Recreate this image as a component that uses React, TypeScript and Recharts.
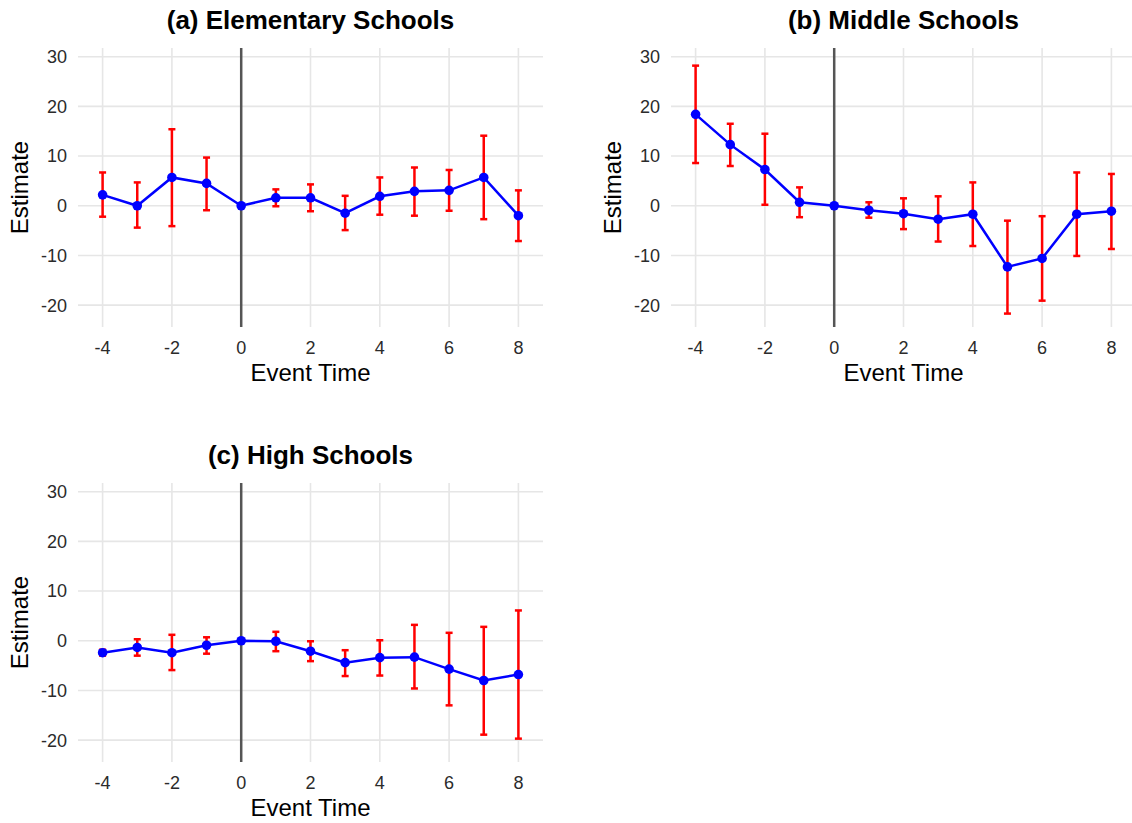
import {
  ComposedChart,
  Line,
  XAxis,
  YAxis,
  ReferenceLine,
  ErrorBar,
  Label,
} from 'recharts';

const eventTimes = [-4, -3, -2, -1, 0, 1, 2, 3, 4, 5, 6, 7, 8];
const xTicks = [-4, -2, 0, 2, 4, 6, 8];
const yTicks = [-20, -10, 0, 10, 20, 30];

const elemEst = [2.2, 0, 5.7, 4.5, 0, 1.6, 1.6, -1.5, 1.9, 2.9, 3.1, 5.7, -2.0];
const elemLow = [-2.2, -4.4, -4.1, -0.9, 0, -0.1, -1.1, -4.9, -1.8, -2.0, -1.0, -2.7, -7.1];
const elemHigh = [6.7, 4.7, 15.4, 9.7, 0, 3.3, 4.3, 2.0, 5.7, 7.7, 7.2, 14.1, 3.1];

const midEst = [18.4, 12.3, 7.3, 0.7, 0, -0.9, -1.6, -2.7, -1.7, -12.3, -10.6, -1.7, -1.1];
const midLow = [8.6, 8.0, 0.2, -2.3, 0, -2.4, -4.7, -7.2, -8.1, -21.7, -19.1, -10.1, -8.7];
const midHigh = [28.2, 16.5, 14.5, 3.7, 0, 0.7, 1.5, 1.9, 4.7, -3.0, -2.1, 6.7, 6.4];

const highEst = [-2.4, -1.35, -2.4, -0.9, 0, -0.1, -2.1, -4.4, -3.4, -3.3, -5.7, -8.0, -6.8];
const highLow = [-3.0, -3.0, -5.9, -2.6, 0, -2.1, -4.1, -7.1, -7.0, -9.6, -13.0, -18.9, -19.7];
const highHigh = [-1.8, 0.3, 1.2, 0.7, 0, 1.8, -0.1, -1.9, 0.1, 3.2, 1.6, 2.8, 6.1];

const FONT = '"Liberation Sans", Arial, Helvetica, sans-serif';
const GRID = '#e6e6e6';

const buildRows = (est: number[], low: number[], high: number[]) =>
  eventTimes.map((t, i) => ({
    t,
    est: est[i],
    err: [est[i] - low[i], high[i] - est[i]],
  }));

interface PanelProps {
  title: string;
  left: number;
  top: number;
  est: number[];
  low: number[];
  high: number[];
}

function Panel({ title, left, top, est, low, high }: PanelProps) {
  const data = buildRows(est, low, high);
  return (
    <div style={{ position: 'absolute', left, top, width: 560, height: 400 }}>
      <div
        style={{
          position: 'absolute',
          left: 78,
          width: 465,
          top: 5,
          textAlign: 'center',
          fontFamily: FONT,
          fontWeight: 700,
          fontSize: 26,
          color: '#000',
          lineHeight: '30px',
        }}
      >
        {title}
      </div>
      <ComposedChart
        width={560}
        height={400}
        data={data}
        margin={{ top: 48, right: 17, bottom: 13, left: 0 }}
      >
        <XAxis
          dataKey="t"
          type="number"
          domain={[-4.71, 8.71]}
          ticks={xTicks}
          allowDataOverflow
          axisLine={false}
          tickLine={false}
          tickSize={0}
          tickMargin={14}
          height={60}
          tick={{ fill: '#2b2b2b', fontSize: 18, fontFamily: FONT }}
        >
          <Label
            value="Event Time"
            position="insideBottom"
            offset={6}
            style={{ fill: '#000', fontSize: 24, fontFamily: FONT }}
          />
        </XAxis>
        <YAxis
          type="number"
          domain={[-24.4, 31.75]}
          ticks={yTicks}
          allowDataOverflow
          axisLine={false}
          tickLine={false}
          tickSize={0}
          tickMargin={11}
          width={78}
          tick={{ fill: '#2b2b2b', fontSize: 18, fontFamily: FONT }}
        >
          <Label
            value="Estimate"
            angle={-90}
            position="insideLeft"
            offset={19}
            style={{ fill: '#000', fontSize: 24, fontFamily: FONT, textAnchor: 'middle' }}
          />
        </YAxis>
        {/* grid lines only at the tick values */}
        {yTicks.map((v) => (
          <ReferenceLine key={'h' + v} y={v} stroke={GRID} strokeWidth={1.6} />
        ))}
        {xTicks.map((v) => (
          <ReferenceLine key={'v' + v} x={v} stroke={GRID} strokeWidth={1.6} />
        ))}
        <ReferenceLine x={0} stroke="#555" strokeWidth={2.5} />
        <Line
          type="linear"
          dataKey="est"
          stroke="#0000ff"
          strokeWidth={2.5}
          dot={{ r: 4.8, fill: '#0000ff', stroke: 'none' }}
          activeDot={false}
          isAnimationActive={false}
        >
          <ErrorBar
            dataKey="err"
            direction="y"
            width={3.5}
            stroke="#ff0000"
            strokeWidth={2.5}
            isAnimationActive={false}
          />
        </Line>
      </ComposedChart>
    </div>
  );
}

export default function App() {
  return (
    <div
      style={{
        position: 'absolute',
        left: 0,
        top: 0,
        width: 1132,
        height: 823,
        overflow: 'hidden',
        background: '#fff',
      }}
    >
      <Panel title="(a) Elementary Schools" left={0} top={0} est={elemEst} low={elemLow} high={elemHigh} />
      <Panel title="(b) Middle Schools" left={593} top={0} est={midEst} low={midLow} high={midHigh} />
      <Panel title="(c) High Schools" left={0} top={435} est={highEst} low={highLow} high={highHigh} />
    </div>
  );
}
